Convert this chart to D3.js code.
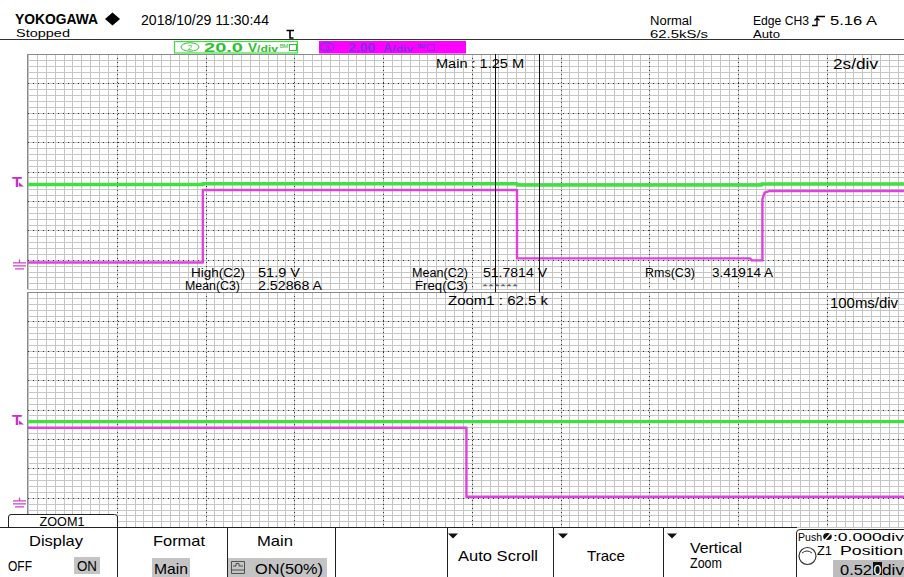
<!DOCTYPE html>
<html><head><meta charset="utf-8">
<script src="https://cdn.jsdelivr.net/npm/d3@7"></script>
<style>
body{margin:0;background:#fff}
svg{display:block}
text{font-family:"Liberation Sans",Arial,sans-serif}
</style>
</head><body>
<svg id="c" width="904" height="577"></svg>
<script>
// ---------------- data ----------------
const headerLabels = ["YOKOGAWA", "Stopped", "2018/10/29 11:30:44", "Normal", "62.5kS/s", "Edge CH3", "5.16 A", "Auto"];
const ch2Label = ["2", "20.0", "V", "/div"];
const ch3Label = ["3", "2.00", "A", "/div"];
const timebaseLabels = ["2s/div", "100ms/div"];
const recordLabels = ["Main : 1.25 M", "Zoom1 : 62.5 k"];
const measureNames = ["High(C2)", "Mean(C3)", "Mean(C2)", "Freq(C3)", "Rms(C3)"];
const measureValues = ["51.9 V", "2.52868 A", "51.7814 V", "******", "3.41914 A"];
const menuTitles = ["Display", "Format", "Main", "", "Auto Scroll", "Trace", "Vertical", "Zoom"];
const ch2VoltsPerDiv = 20;
const ch3AmpsPerDiv = 2;
const mainSecondsFull = 20;     // 10 div x 2 s/div
const zoomCenter = 11.02;       // s
const zoomSpan = 1.0;           // 10 div x 100 ms/div
const triggerLevel = 5.16;      // A

// main window traces (time in s)
const mainCh2Time  = [0, 3.94, 3.94, 11.02, 11.02, 16.53, 16.53, 20];
const mainCh2Volts = [53.0, 53.0, 53.5, 53.5, 52.7, 52.7, 53.4, 53.4];
const mainCh3Time  = [0, 3.94, 3.94, 11.02, 11.02, 16.27, 16.31, 16.55, 16.55, 16.6, 16.7, 20];
const mainCh3Amps  = [0.0, 0.0, 4.93, 4.93, 0.28, 0.28, 0.14, 0.14, 4.3, 4.75, 4.86, 4.86];
// zoom window traces
const zoomCh2Time  = [10.52, 11.52];
const zoomCh2Volts = [53.6, 53.6];
const zoomCh3Time  = [10.52, 11.014, 11.014, 11.52];
const zoomCh3Amps  = [4.95, 4.95, 0.25, 0.25];

// ---------------- layout ----------------
const svg = d3.select("#c");
const GREEN = "#3fe03f", PINK = "#e040e0", MAG = "#ff00ff";
const gridL = 28, gridR = 915.5, viewR = 904;
const winTops = [54, 292], winH = 235.2;
const chPos = -3.09; // ground position in div

const xDiv = d3.scaleLinear().domain([0, 10]).range([gridL, gridR]);
const xMain = d3.scaleLinear().domain([0, mainSecondsFull]).range([gridL, gridR]);
const xZoom = d3.scaleLinear().domain([zoomCenter - zoomSpan / 2, zoomCenter + zoomSpan / 2]).range([gridL, gridR]);
const yDivs = winTops.map(t => d3.scaleLinear().domain([-4, 4]).range([t + winH, t]));
const yCh2 = yDivs.map(s => d3.scaleLinear().domain([0, ch2VoltsPerDiv]).range([s(chPos), s(chPos + 1)]));
const yCh3 = yDivs.map(s => d3.scaleLinear().domain([0, ch3AmpsPerDiv]).range([s(chPos), s(chPos + 1)]));

function T(x, y, s, o = {}) {
  const t = svg.append("text").attr("x", x).attr("y", y).text(s)
    .attr("font-size", o.size || 12).attr("fill", o.fill || "#000");
  if (o.anchor) t.attr("text-anchor", o.anchor);
  if (o.bold) t.attr("font-weight", o.bold === true ? "bold" : o.bold);
  if (o.w) t.attr("textLength", o.w).attr("lengthAdjust", "spacingAndGlyphs");
  return t;
}
const crisp = v => Math.round(v) + 0.5;

// ---------------- grid ----------------
const grid = svg.append("g");
winTops.forEach((top, wi) => {
  const ys = yDivs[wi];
  d3.range(0, 41).forEach(i => {
    const y = crisp(ys(-4 + i / 5));
    grid.append("line").attr("x1", gridL).attr("x2", viewR).attr("y1", y).attr("y2", y)
      .attr("stroke", "#c6c6c6").attr("stroke-width", 1);
  });
  d3.range(0, 101).forEach(i => {
    const x = crisp(xDiv(i / 10));
    grid.append("line").attr("x1", x).attr("x2", x).attr("y1", top).attr("y2", top + winH)
      .attr("stroke", "#c6c6c6").attr("stroke-width", 1);
  });
  d3.range(1, 8).forEach(i => {
    const y = crisp(ys(-4 + i));
    grid.append("line").attr("x1", gridL).attr("x2", viewR).attr("y1", y).attr("y2", y)
      .attr("stroke", "#333").attr("stroke-width", 1).attr("stroke-dasharray", "1,4");
  });
  d3.range(1, 10).forEach(i => {
    const x = crisp(xDiv(i));
    grid.append("line").attr("x1", x).attr("x2", x).attr("y1", top).attr("y2", top + winH)
      .attr("stroke", "#333").attr("stroke-width", 1).attr("stroke-dasharray", "1,3");
  });
  grid.append("line").attr("x1", gridL - 0.5).attr("x2", viewR).attr("y1", top + 0.5).attr("y2", top + 0.5)
    .attr("stroke", "#8a8a8a");
  grid.append("line").attr("x1", gridL - 0.5).attr("x2", gridL - 0.5).attr("y1", top).attr("y2", top + winH)
    .attr("stroke", "#8a8a8a");
});

// ---------------- traces ----------------
const defs = svg.append("defs");
winTops.forEach((top, wi) => {
  defs.append("clipPath").attr("id", "clip" + wi).append("rect")
    .attr("x", gridL).attr("y", top).attr("width", viewR - gridL).attr("height", winH);
});
function trace(times, vals, xs, ys, color, w, wi) {
  const pts = times.map((t, i) => [t, vals[i]]);
  svg.append("path").attr("clip-path", `url(#clip${wi})`)
    .attr("d", d3.line().x(d => xs(d[0])).y(d => ys(d[1]))(pts))
    .attr("fill", "none").attr("stroke", color).attr("stroke-width", w)
    .attr("stroke-linejoin", "round");
}
trace(mainCh3Time, mainCh3Amps, xMain, yCh3[0], PINK, 2.4, 0);
trace(mainCh2Time, mainCh2Volts, xMain, yCh2[0], GREEN, 3.4, 0);
trace(zoomCh3Time, zoomCh3Amps, xZoom, yCh3[1], PINK, 2.4, 1);
trace(zoomCh2Time, zoomCh2Volts, xZoom, yCh2[1], GREEN, 3.4, 1);

// zoom-area cursors in main window
[zoomCenter - zoomSpan / 2, zoomCenter + zoomSpan / 2].forEach(t => {
  const x = crisp(xMain(t));
  svg.append("line").attr("x1", x).attr("x2", x).attr("y1", winTops[0]).attr("y2", winTops[0] + winH + 3)
    .attr("stroke", "#111").attr("stroke-width", 1);
});

// ---------------- left markers ----------------
winTops.forEach((top, wi) => {
  const yT = yCh3[wi](triggerLevel);
  T(12, yT, "T", { size: 14, bold: true, fill: "#c830c8", w: 10 });
  svg.append("path").attr("d", `M19 ${yT - 4} L24 ${yT} L19 ${yT}Z`).attr("fill", "#c830c8");
  const yg = yCh3[wi](0);
  svg.append("path")
    .attr("d", `M19.5 ${yg - 3} V${yg + 0.5} M13 ${yg + 0.5} H26 M13 ${yg + 3.5} H26 M15 ${yg + 6.5} H24`)
    .attr("stroke", "#d040d0").attr("stroke-width", 1.3).attr("fill", "none");
});

// ---------------- header ----------------
T(15, 23.5, headerLabels[0], { size: 14.5, bold: true, w: 83 });
svg.append("path").attr("d", "M105 19 L112.5 12.5 L120 19 L112.5 25.5Z").attr("fill", "#000");
T(16, 37, headerLabels[1], { size: 11.5, w: 54 });
T(141, 24.5, headerLabels[2], { size: 14.5, w: 128 });
svg.append("path").attr("d", "M286.5 30.5 H294 M290 30.5 V38 H293.5").attr("stroke", "#000").attr("stroke-width", 1.6).attr("fill", "none");
T(650, 24.5, headerLabels[3], { size: 12, w: 42 });
T(650, 37.5, headerLabels[4], { size: 11.5, w: 58 });
T(753, 24.5, headerLabels[5], { size: 12, w: 56 });
svg.append("path").attr("d", "M812 25.5 H817 V16.5 H825 M814.5 20.5 L817 18 L819.5 20.5").attr("stroke", "#000").attr("stroke-width", 1.4).attr("fill", "none");
T(830, 24.5, headerLabels[6], { size: 12, w: 47 });
T(753, 37.5, headerLabels[7], { size: 11.5, w: 27 });
svg.append("line").attr("x1", 0).attr("x2", viewR).attr("y1", 39.5).attr("y2", 39.5).attr("stroke", "#333").attr("stroke-width", 1);

// channel boxes
svg.append("rect").attr("x", 174.5).attr("y", 41.5).attr("width", 123).attr("height", 11.5)
  .attr("fill", "#fff").attr("stroke", GREEN).attr("stroke-width", 1.2);
svg.append("ellipse").attr("cx", 190).attr("cy", 47).attr("rx", 9).attr("ry", 4.2).attr("fill", "none").attr("stroke", "#30c030").attr("stroke-width", 1);
T(190, 50, ch2Label[0], { size: 8, fill: "#30c030", anchor: "middle" });
T(204, 51.5, ch2Label[1], { size: 13, fill: "#30c030", w: 39, bold: 600 });
T(248, 51.5, ch2Label[2], { size: 13, fill: "#30c030", w: 9, bold: 600 });
T(257, 51.5, ch2Label[3], { size: 9, fill: "#30c030", w: 21, bold: 600 });
T(280, 50, "ᴮᴹ", { size: 8, fill: "#30c030", w: 8 });
svg.append("rect").attr("x", 289.5).attr("y", 44.5).attr("width", 7).attr("height", 6).attr("fill", "none").attr("stroke", "#30c030");

svg.append("rect").attr("x", 319).attr("y", 41).attr("width", 147).attr("height", 12.5).attr("fill", MAG);
const C3T = "#8030e0";
svg.append("ellipse").attr("cx", 327).attr("cy", 47).attr("rx", 7).attr("ry", 4.2).attr("fill", "none").attr("stroke", C3T).attr("stroke-width", 1.2);
T(327, 50, ch3Label[0], { size: 8, fill: C3T, anchor: "middle", bold: true });
T(348, 51.5, ch3Label[1], { size: 13, fill: C3T, w: 27, bold: true });
T(383, 51.5, ch3Label[2], { size: 13, fill: C3T, w: 9, bold: true });
T(392, 51.5, ch3Label[3], { size: 9, fill: C3T, w: 21, bold: true });
T(417, 50, "ᴮᴹ", { size: 8, fill: C3T, w: 8, bold: true });
svg.append("rect").attr("x", 427.5).attr("y", 44.5).attr("width", 7).attr("height", 6).attr("fill", "none").attr("stroke", C3T);

// ---------------- in-plot labels ----------------
T(436, 67.5, recordLabels[0], { size: 12.5, w: 88 });
T(833, 69, timebaseLabels[0], { size: 15, w: 45 });
T(830, 307.5, timebaseLabels[1], { size: 15, w: 68 });
T(448, 304.5, recordLabels[1], { size: 12.5, w: 100 });

T(191, 277, measureNames[0], { size: 12, w: 54 });
T(258, 277, measureValues[0], { size: 12, w: 42 });
T(185, 289.5, measureNames[1], { size: 12, w: 55 });
T(258, 289.5, measureValues[1], { size: 12, w: 64 });
T(412, 277, measureNames[2], { size: 12, w: 56 });
T(483, 277, measureValues[2], { size: 12, w: 64 });
T(415, 289.5, measureNames[3], { size: 12, w: 53 });
T(482, 289, measureValues[3], { size: 8, w: 36, fill: "#555" });
T(645, 277, measureNames[4], { size: 12, w: 50 });
T(712, 277, measureValues[4], { size: 12, w: 61 });

// ---------------- bottom menu ----------------
svg.append("path").attr("d", "M8.5 528 V517 Q8.5 514.5 11 514.5 H114.5 Q117.5 514.5 117.5 517 V528")
  .attr("fill", "#fff").attr("stroke", "#222").attr("stroke-width", 1);
T(62, 525.5, "ZOOM1", { size: 13, anchor: "middle", w: 45 });
svg.append("rect").attr("x", 0).attr("y", 528).attr("width", viewR).attr("height", 49).attr("fill", "#fff");
svg.append("line").attr("x1", 0).attr("x2", 797).attr("y1", 527.5).attr("y2", 527.5).attr("stroke", "#222");
[117.5, 227.5, 335.5, 447.5, 553.5, 663.5].forEach(x => {
  svg.append("line").attr("x1", x).attr("x2", x).attr("y1", 527.5).attr("y2", 577).attr("stroke", "#222");
});
svg.append("path").attr("d", "M796.5 577 V533 Q796.5 529.5 800 529.5 H904").attr("fill", "none").attr("stroke", "#222");

T(56, 546, menuTitles[0], { size: 15, anchor: "middle", w: 54 });
T(179, 546, menuTitles[1], { size: 15, anchor: "middle", w: 52 });
T(275, 546, menuTitles[2], { size: 15, anchor: "middle", w: 36 });
T(8, 571, "OFF", { size: 14.5, w: 24 });
svg.append("rect").attr("x", 74).attr("y", 557).attr("width", 26).attr("height", 17).attr("fill", "#c4c4c4");
T(87, 571, "ON", { size: 14.5, anchor: "middle", w: 20 });
svg.append("rect").attr("x", 152).attr("y", 558).attr("width", 38).attr("height", 19).attr("fill", "#c4c4c4");
T(171, 573.5, "Main", { size: 14.5, anchor: "middle", w: 34 });
svg.append("rect").attr("x", 228).attr("y", 558).attr("width", 99).attr("height", 19).attr("fill", "#c4c4c4");
svg.append("path").attr("d", "M231.5 561.5 H244.5 V573.5 H231.5 Z M233 566 H236 V563.5 H239 V566 H243 M231.5 570 H244.5")
  .attr("fill", "none").attr("stroke", "#444").attr("stroke-width", 0.9);
T(255, 573.5, "ON(50%)", { size: 14.5, w: 68 });

[448, 558, 667].forEach(x => {
  svg.append("path").attr("d", `M${x} 533.5 H${x + 10} L${x + 5} 538.5 Z`).attr("fill", "#111");
});
T(498, 560.5, menuTitles[4], { size: 15, anchor: "middle", w: 80 });
T(606, 560.5, menuTitles[5], { size: 15, anchor: "middle", w: 38 });
T(690, 552.5, menuTitles[6], { size: 14.5, w: 52 });
T(690, 567.5, menuTitles[7], { size: 14.5, w: 32 });

T(798, 540.5, "Push", { size: 11.5, w: 24 });
svg.append("ellipse").attr("cx", 827.5).attr("cy", 536.5).attr("rx", 4.3).attr("ry", 3.6).attr("fill", "#111");
svg.append("line").attr("x1", 824.5).attr("x2", 831).attr("y1", 540.5).attr("y2", 533).attr("stroke", "#fff").attr("stroke-width", 1.2);
T(833, 540.5, ":0.000div", { size: 11.5, w: 71 });
svg.append("circle").attr("cx", 807.5).attr("cy", 556).attr("r", 8.5).attr("fill", "none").attr("stroke", "#333").attr("stroke-width", 1.2);
svg.append("path").attr("d", "M802 553 Q807 549 812 553").attr("fill", "none").attr("stroke", "#333").attr("stroke-width", 1);
T(817, 555, "Z1", { size: 13, w: 15 });
T(840, 555, "Position", { size: 13, w: 63 });
svg.append("rect").attr("x", 833).attr("y", 560).attr("width", 71).attr("height", 17).attr("fill", "#bdbdbd");
T(840, 574.5, "0.52", { size: 14, w: 32 });
svg.append("rect").attr("x", 873).attr("y", 562).attr("width", 9).attr("height", 13).attr("fill", "#111");
T(877.5, 574.5, "0", { size: 14, anchor: "middle", fill: "#fff", w: 8 });
T(882, 574.5, "div", { size: 14, w: 22 });
</script>
</body></html>
